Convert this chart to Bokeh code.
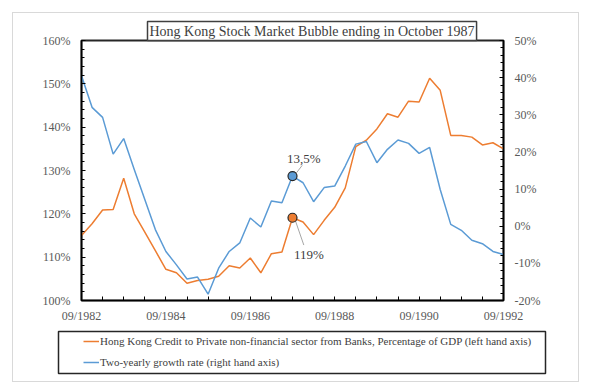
from bokeh.plotting import figure
from bokeh.layouts import column
from bokeh.models import (Range1d, LinearAxis, FixedTicker, PrintfTickFormatter,
                          Legend, LegendItem, Label)
from bokeh.embed import file_html
from bokeh.resources import INLINE

# ---------------- data (quarterly) ----------------
quarters = ["09/1982", "12/1982", "03/1983", "06/1983", "09/1983", "12/1983",
            "03/1984", "06/1984", "09/1984", "12/1984", "03/1985", "06/1985",
            "09/1985", "12/1985", "03/1986", "06/1986", "09/1986", "12/1986",
            "03/1987", "06/1987", "09/1987", "12/1987", "03/1988", "06/1988",
            "09/1988", "12/1988", "03/1989", "06/1989", "09/1989", "12/1989",
            "03/1990", "06/1990", "09/1990", "12/1990", "03/1991", "06/1991",
            "09/1991", "12/1991", "03/1992", "06/1992", "09/1992"]
credit = [115.0, 117.7, 120.9, 121.0, 128.2, 120.0, 115.8, 111.5, 107.2, 106.4,
          104.0, 104.6, 104.9, 105.6, 108.0, 107.5, 109.8, 106.4, 110.8, 111.2,
          119.1, 118.1, 115.2, 118.5, 121.5, 126.0, 135.5, 137.0, 139.6, 143.1,
          142.3, 146.0, 145.8, 151.3, 148.5, 138.1, 138.1, 137.7, 135.9, 136.4,
          135.0]
growth = [40.5, 32.0, 29.3, 19.4, 23.6, 15.3, 7.2, -0.9, -6.8, -10.4,
          -14.2, -13.7, -18.3, -11.3, -6.8, -4.5, 2.2, -0.2, 6.8, 6.3,
          13.5, 11.7, 6.6, 10.4, 10.8, 16.2, 22.1, 22.8, 17.1, 20.7,
          23.2, 22.3, 19.6, 21.2, 9.9, 0.5, -1.1, -3.8, -4.7, -6.8,
          -7.6]
x_labels = ["09/1982", "09/1984", "09/1986", "09/1988", "09/1990", "09/1992"]
left_ticks = [100, 110, 120, 130, 140, 150, 160]
right_ticks = [-20, -10, 0, 10, 20, 30, 40, 50]
highlight = "09/1987"
credit_label = "119%"
growth_label = "13,5%"
title_text = "Hong Kong Stock Market Bubble ending in October 1987"
name_credit = "Hong Kong Credit to Private non-financial sector from Banks, Percentage of GDP (left hand axis)"
name_growth = "Two-yearly growth rate (right hand axis)"


def month_index(s):
    m, y = s.split("/")
    return (int(y) - 1982) * 12 + (int(m) - 9)


xs = [month_index(q) for q in quarters]

FONT = "Liberation Serif"
TXT = "#404040"
LBL = "#595959"
ORANGE = "#ED7D31"
BLUE = "#5B9BD5"

W = 590
BL, FW = 81, 422
BT, FH, BB = 40, 260, 28
XMIN, XMAX = 0, 120
LMIN, LMAX = 100, 160
RMIN, RMAX = -20, 50
pxm = FW / (XMAX - XMIN)
pxl = FH / (LMAX - LMIN)
pxr = FH / (RMAX - RMIN)

p = figure(width=W, height=BT + FH + BB,
           min_border_left=BL, min_border_right=W - BL - FW,
           min_border_top=BT, min_border_bottom=BB,
           x_range=Range1d(XMIN, XMAX), y_range=Range1d(LMIN, LMAX),
           output_backend="svg", toolbar_location=None,
           x_axis_type=None, y_axis_type=None)
p.extra_y_ranges = {"right": Range1d(RMIN, RMAX)}
p.background_fill_color = "white"
p.border_fill_alpha = 0
p.outline_line_color = "#262626"
p.outline_line_width = 2

# chart title in a box
p.title.text = title_text
p.title.text_font = FONT
p.title.text_font_size = "14px"
p.title.text_font_style = "normal"
p.title.text_color = TXT
p.title.align = "left"
p.title.offset = 66
p.title.background_fill_color = "white"
p.title.border_line_color = "#404040"
p.title.border_line_width = 1.5
p.title.padding = 2
p.title.standoff = 0


def style_axis(ax, standoff):
    ax.axis_line_color = "black"
    ax.axis_line_width = 1.5
    ax.major_tick_line_color = "black"
    ax.minor_tick_line_color = "black"
    ax.major_tick_in = 4
    ax.major_tick_out = 0
    ax.minor_tick_in = 3
    ax.minor_tick_out = 0
    ax.major_label_text_font = FONT
    ax.major_label_text_font_size = "12px"
    ax.major_label_text_color = LBL
    ax.major_label_standoff = standoff


xticks = list(range(XMIN, XMAX + 1, 6))
xaxis = LinearAxis(ticker=FixedTicker(ticks=xticks))
label_map = {month_index(s): s for s in x_labels}
xaxis.major_label_overrides = {t: label_map.get(t, "") for t in xticks}
style_axis(xaxis, 8)
p.add_layout(xaxis, "below")

laxis = LinearAxis(ticker=FixedTicker(ticks=left_ticks,
                                      minor_ticks=list(range(LMIN, LMAX + 1, 2))),
                   formatter=PrintfTickFormatter(format="%d%%"))
style_axis(laxis, 11)
p.add_layout(laxis, "left")

raxis = LinearAxis(y_range_name="right",
                   ticker=FixedTicker(ticks=right_ticks,
                                      minor_ticks=list(range(RMIN, RMAX + 1, 2))),
                   formatter=PrintfTickFormatter(format="%d%%"))
style_axis(raxis, 11)
p.add_layout(raxis, "right")

p.xgrid.ticker = FixedTicker(ticks=xticks)
p.ygrid.ticker = FixedTicker(ticks=left_ticks)
p.xgrid.grid_line_color = "#D9D9D9"
p.ygrid.grid_line_color = "#D9D9D9"

r_credit = p.line(xs, credit, line_color=ORANGE, line_width=1.5)
r_growth = p.line(xs, growth, line_color=BLUE, line_width=1.5, y_range_name="right")

hi = quarters.index(highlight)
hx = xs[hi]
hc = credit[hi]
hg = growth[hi]

# leader lines (pixel offsets from markers converted to data units)
p.segment(x0=[hx + 4 / pxm], y0=[hg + 3.3 / pxr], x1=[hx + 9.7 / pxm], y1=[hg + 10.7 / pxr],
          line_color="#A6A6A6", line_width=1, y_range_name="right")
p.segment(x0=[hx + 3 / pxm], y0=[hc - 3.3 / pxl], x1=[hx + 11.3 / pxm], y1=[hc - 27.3 / pxl],
          line_color="#A6A6A6", line_width=1)

p.scatter([hx], [hg], size=9, fill_color=BLUE, line_color="#262626", line_width=1.2,
          y_range_name="right")
p.scatter([hx], [hc], size=9, fill_color=ORANGE, line_color="#262626", line_width=1.2)

p.add_layout(Label(x=hx, y=hg, y_range_name="right", x_offset=11.3, y_offset=17.3,
                   text=growth_label, text_align="center", text_baseline="middle",
                   text_font=FONT, text_font_size="13px", text_color=TXT))
p.add_layout(Label(x=hx, y=hc, x_offset=16.3, y_offset=-36.3,
                   text=credit_label, text_align="center", text_baseline="middle",
                   text_font=FONT, text_font_size="13px", text_color=TXT))

# ---------------- legend panel (its frame outline is the legend box) ----------------
LW_L, LFW, LT, LFH, LB = 58, 487, 3, 42, 16
lf = figure(width=W, height=LT + LFH + LB,
            min_border_left=LW_L, min_border_right=W - LW_L - LFW,
            min_border_top=LT, min_border_bottom=LB,
            x_range=Range1d(0, 1), y_range=Range1d(0, 1),
            output_backend="svg", toolbar_location=None,
            x_axis_type=None, y_axis_type=None)
for fig in (p, lf):
    try:
        fig.frame_align = False
    except Exception:
        pass
lf.xgrid.visible = False
lf.ygrid.visible = False
lf.outline_line_color = "#262626"
lf.outline_line_width = 1.5
lf.border_fill_alpha = 0
lf.background_fill_color = "white"
# same series drawn out of view here, only so that the legend can show their line styles
l_credit = lf.line(xs, credit, line_color=ORANGE, line_width=1.5)
l_growth = lf.line(xs, growth, line_color=BLUE, line_width=1.5)
legend = Legend(items=[LegendItem(label=name_credit, renderers=[l_credit]),
                       LegendItem(label=name_growth, renderers=[l_growth])],
                location=(21, 0), orientation="vertical",
                padding=4, spacing=7, glyph_width=16, glyph_height=14,
                label_height=14, label_standoff=1,
                label_text_font=FONT, label_text_font_size="11px",
                label_text_color=TXT, border_line_alpha=0,
                background_fill_alpha=0)
lf.add_layout(legend, "center")

root = column(p, lf, spacing=0)
# light grey outer frame of the chart area (drawn behind the transparent canvas borders)
root.styles = {
    "background-image": ", ".join(["linear-gradient(#D9D9D9, #D9D9D9)"] * 4),
    "background-size": "567px 1px, 567px 1px, 1px 370px, 1px 370px",
    "background-position": "12px 12px, 12px 381px, 12px 12px, 578px 12px",
    "background-repeat": "no-repeat",
}

open("out.html", "w").write(file_html(root, INLINE))
